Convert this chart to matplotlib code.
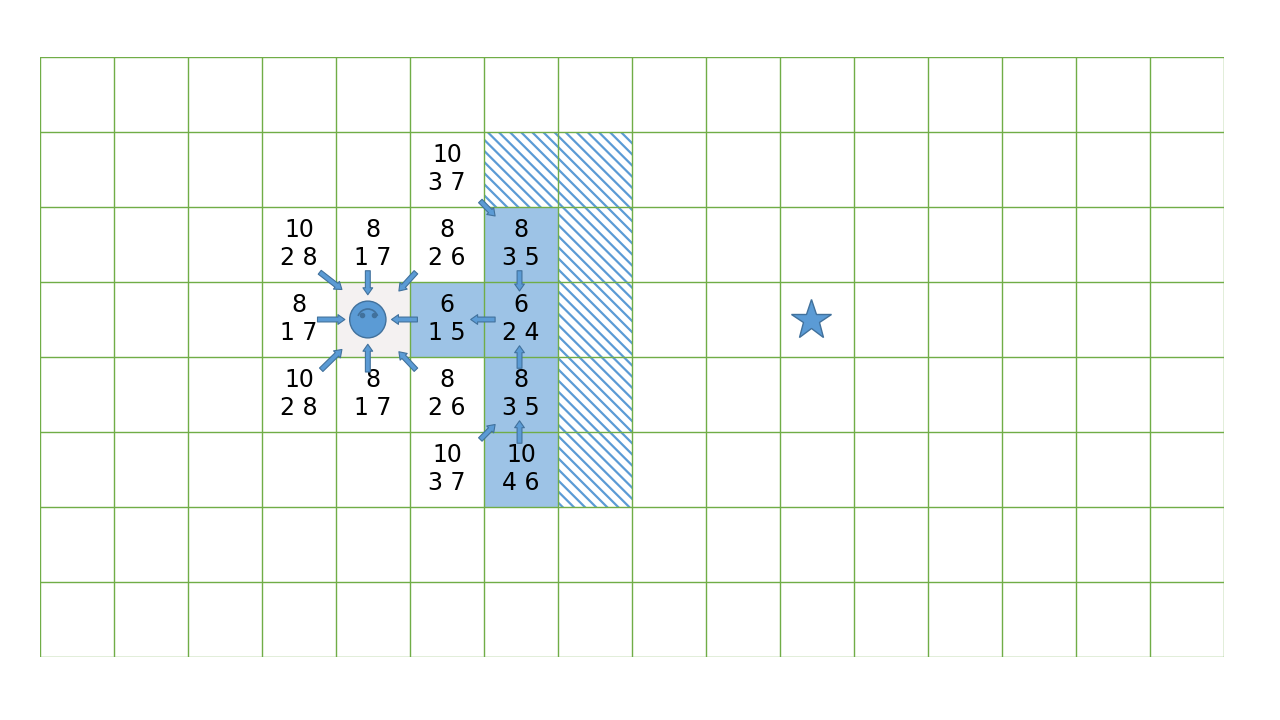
import matplotlib.pyplot as plt
from matplotlib.patches import Rectangle, Circle, Arc

n_cols, n_rows = 16, 8
start = (4, 3)
goal = (10, 3)
open_cells = [(5, 3), (6, 2), (6, 3), (6, 4), (6, 5)]
wall_cells = [(6, 1), (7, 1), (7, 2), (7, 3), (7, 4), (7, 5)]

# (col, row, f, g, h)
cell_scores = [
    (5, 1, 10, 3, 7), (3, 2, 10, 2, 8), (4, 2, 8, 1, 7), (5, 2, 8, 2, 6),
    (6, 2, 8, 3, 5), (3, 3, 8, 1, 7), (5, 3, 6, 1, 5), (6, 3, 6, 2, 4),
    (3, 4, 10, 2, 8), (4, 4, 8, 1, 7), (5, 4, 8, 2, 6), (6, 4, 8, 3, 5),
    (5, 5, 10, 3, 7), (6, 5, 10, 4, 6),
]

# parent pointers: (from_x, from_y, to_x, to_y)
arrows = [
    (3.75, 3.5, 4.12, 3.5), (4.43, 2.85, 4.43, 3.17), (3.78, 2.87, 4.08, 3.1),
    (5.08, 2.87, 4.85, 3.12), (5.1, 3.5, 4.75, 3.5), (4.43, 4.2, 4.43, 3.83),
    (3.8, 4.17, 4.08, 3.9), (5.08, 4.17, 4.85, 3.93),
    (6.48, 2.85, 6.48, 3.12), (6.15, 3.5, 5.82, 3.5), (6.48, 4.15, 6.48, 3.85),
    (6.48, 5.15, 6.48, 4.85), (5.95, 1.92, 6.15, 2.12), (5.95, 5.1, 6.15, 4.9),
]

blue = '#5B9BD5'
green = '#70AD47'

fig = plt.figure(figsize=(12.8, 7.2), dpi=100)
ax = fig.add_axes([40 / 1280, 63 / 720, 1184 / 1280, 600 / 720])
ax.set_xlim(0, n_cols)
ax.set_ylim(n_rows, 0)
ax.axis('off')

plt.rcParams['hatch.linewidth'] = 1.6
for c, r in open_cells:
    ax.add_patch(Rectangle((c, r), 1, 1, fc='#9DC3E6', ec='none'))
for c, r in wall_cells:
    ax.add_patch(Rectangle((c, r), 1, 1, fc='white', ec=blue, hatch='\\\\\\', lw=0))
ax.add_patch(Rectangle(start, 1, 1, fc='#F4F1F1', ec='none'))

for i in range(n_cols + 1):
    ax.plot([i, i], [0, n_rows], color=green, lw=1)
for j in range(n_rows + 1):
    ax.plot([0, n_cols], [j, j], color=green, lw=1)

for c, r, f, g, h in cell_scores:
    ax.text(c + 0.5, r + 0.31, str(f), ha='center', va='center', fontsize=17)
    ax.text(c + 0.5, r + 0.68, f'{g} {h}', ha='center', va='center', fontsize=17)

for x0, y0, x1, y1 in arrows:
    ax.annotate('', xy=(x1, y1), xytext=(x0, y0),
                arrowprops=dict(arrowstyle='simple,head_width=0.7,head_length=0.5,tail_width=0.35',
                                fc=blue, ec='#41719C', lw=0.8, shrinkA=0, shrinkB=0))

# smiley
cx, cy = start[0] + 0.43, start[1] + 0.5
ax.add_patch(Circle((cx, cy), 0.245, fc=blue, ec='#41719C', lw=1))
ax.plot([cx - 0.08, cx + 0.08], [cy - 0.06, cy - 0.06], 'o', color='#41719C', ms=3)
ax.add_patch(Arc((cx, cy), 0.28, 0.28, theta1=200, theta2=340, color='#41719C', lw=1.2))

ax.plot(goal[0] + 0.42, goal[1] + 0.5, marker='*', ms=30, color=blue, mec='#41719C', mew=1)

fig.savefig('out.png', dpi=100)
